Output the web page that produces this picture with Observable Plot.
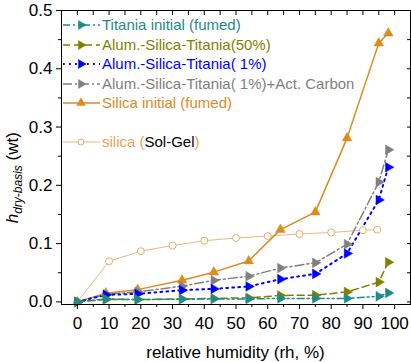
<!DOCTYPE html>
<html><head><meta charset="utf-8">
<script src="https://cdn.jsdelivr.net/npm/d3@7"></script>
<script src="https://cdn.jsdelivr.net/npm/@observablehq/plot@0.6"></script>
<style>
body{margin:0;background:#fff}
</style>
</head><body><div id="chart"></div>
<script>
// relative humidity (%) for the Origin data sets
const rh = [0, 9, 19, 33, 43, 54, 64, 75, 85, 95, 98];
const rhSolGel = [0, 10, 20, 30, 40, 50, 60, 70, 80, 90, 94.5];
// h dry-basis (wt)
const titaniaFumed = [0, 0.005, 0.004, 0.0045, 0.005, 0.005, 0.006, 0.006, 0.006, 0.0095, 0.0154];
const alumSilicaTitania50 = [0, 0.004, 0.004, 0.005, 0.006, 0.007, 0.011, 0.0115, 0.017, 0.034, 0.068];
const alumSilicaTitania1 = [0, 0.012, 0.0137, 0.020, 0.0223, 0.0264, 0.039, 0.048, 0.083, 0.175, 0.231];
const alumSilicaTitania1AC = [0, 0.013, 0.017, 0.027, 0.037, 0.044, 0.058, 0.067, 0.099, 0.2055, 0.261];
const silicaFumed = [0, 0.015, 0.021, 0.037, 0.051, 0.070, 0.124, 0.154, 0.281, 0.444, 0.461];
const silicaSolGel = [0, 0.0697, 0.087, 0.0966, 0.105, 0.1096, 0.113, 0.1165, 0.119, 0.123, 0.124];

const xTicks = [0, 10, 20, 30, 40, 50, 60, 70, 80, 90, 100];
const yTicks = [0, 0.1, 0.2, 0.3, 0.4, 0.5];

const series = [
  {name: "Titania initial (fumed)", x: rh, y: titaniaFumed, color: "#1f8a8a", dash: "7,3,2,3,2,3", symbol: "triangle", rotate: 90, sw: 1.5, r: 3.6, fill: "#1f8a8a"},
  {name: "Alum.-Silica-Titania(50%)", x: rh, y: alumSilicaTitania50, color: "#7f7f00", dash: "7,4", symbol: "triangle", rotate: 90, sw: 1.5, r: 3.6, fill: "#7f7f00"},
  {name: "Alum.-Silica-Titania( 1%)", x: rh, y: alumSilicaTitania1, color: "#0000ff", dash: "1.8,4.2", symbol: "triangle", rotate: 90, sw: 2, r: 3.6, fill: "#0000ff"},
  {name: "Alum.-Silica-Titania( 1%)+Act. Carbon", x: rh, y: alumSilicaTitania1AC, color: "#808080", dash: "9,3,2,3", symbol: "triangle", rotate: 90, sw: 1.5, r: 3.6, fill: "#808080"},
  {name: "Silica initial (fumed)", x: rh, y: silicaFumed, color: "#dd8a1f", dash: null, symbol: "triangle", rotate: 0, sw: 1.5, r: 3.6, fill: "#dd8a1f"},
  {name: "silica (Sol-Gel)", x: rhSolGel, y: silicaSolGel, color: "#e6a35a", dash: null, symbol: "circle", rotate: 0, sw: 0.8, r: 3.5, fill: "white"}
];

const FONT = "Liberation Sans, Arial, sans-serif";

const marks = [];
for (const s of series.slice().reverse()) {
  const d = s.x.map((x, i) => ({x, y: s.y[i]}));
  marks.push(Plot.line(d, {x: "x", y: "y", stroke: s.color, strokeWidth: s.sw, strokeDasharray: s.dash}));
}
for (const s of series.slice().reverse()) {
  const d = s.x.map((x, i) => ({x, y: s.y[i]}));
  marks.push(Plot.dot(d, {x: "x", y: "y", symbol: s.symbol, rotate: s.rotate, r: s.r, fill: s.fill, stroke: s.color, strokeWidth: s.symbol === "circle" ? 0.9 : 0.5}));
}

const plot = Plot.plot({
  width: 411,
  height: 362,
  marginLeft: 61,
  marginRight: 1,
  marginTop: 10,
  marginBottom: 58,
  style: {fontFamily: FONT, overflow: "visible", background: "white"},
  x: {domain: [-5, 105]},
  y: {domain: [-0.0045, 0.5]},
  marks: [
    ...marks,
    Plot.frame({stroke: "black", strokeWidth: 1}),
    Plot.axisX(xTicks, {anchor: "bottom", tickSize: 5, tickPadding: 7, fontSize: 17, label: null}),
    Plot.axisX(d3.range(5, 101, 10), {anchor: "bottom", tickSize: 3, text: null, label: null}),
    Plot.axisX(d3.range(0, 101, 5), {anchor: "top", tickSize: -4, text: null, label: null}),
    Plot.axisY(yTicks, {anchor: "left", tickSize: 5, tickPadding: 4, fontSize: 17, tickFormat: d3.format(".1f"), label: null}),
    Plot.axisY(d3.range(0.05, 0.5, 0.1), {anchor: "left", tickSize: 3, text: null, label: null}),
    Plot.axisY(d3.range(0, 0.51, 0.05), {anchor: "right", tickSize: -4, text: null, label: null})
  ]
});

const svg = d3.select(plot);
const fx = plot.scale("x"), fy = plot.scale("y");
// x-axis title
svg.append("text")
  .attr("x", (fx.apply(-5) + fx.apply(105)) / 2).attr("y", 358)
  .attr("text-anchor", "middle").attr("font-size", 17).style("font-family", FONT).attr("fill", "black")
  .text("relative humidity (rh, %)");
// y-axis title with subscript
const yt = svg.append("text")
  .attr("transform", `translate(18,${(fy.apply(0) + fy.apply(0.5)) / 2 + 22}) rotate(-90)`)
  .attr("text-anchor", "middle").attr("font-size", 17).style("font-family", FONT).attr("fill", "black");
yt.append("tspan").attr("font-style", "italic").text("h");
yt.append("tspan").attr("font-style", "italic").attr("font-size", 12).attr("dy", 4).text("dry-basis");
yt.append("tspan").attr("dy", -4).text(" (wt)");

// legend
const rowY = [25, 45, 64, 84, 103, 142];
const lg = svg.append("g");
series.forEach((s, i) => {
  const y = rowY[i];
  lg.append("line").attr("x1", 63).attr("x2", 100).attr("y1", y).attr("y2", y)
    .attr("stroke", s.color).attr("stroke-width", s.sw).attr("stroke-dasharray", s.dash);
  const area = s.symbol === "circle" ? Math.PI * 3 * 3 : Math.PI * 3.3 * 3.3;
  const sym = d3.symbol(s.symbol === "circle" ? d3.symbolCircle : d3.symbolTriangle, area)();
  lg.append("path").attr("d", sym)
    .attr("transform", `translate(81,${y}) rotate(${s.rotate})`)
    .attr("fill", s.fill).attr("stroke", s.color).attr("stroke-width", s.symbol === "circle" ? 0.9 : 0.5);
  const t = lg.append("text").attr("x", 102).attr("y", y).attr("dy", "0.35em")
    .attr("text-anchor", "start").attr("font-size", 15).style("font-family", FONT).attr("fill", s.color);
  if (s.name === "silica (Sol-Gel)") {
    t.append("tspan").text("silica (");
    t.append("tspan").attr("fill", "black").text("Sol-Gel");
    t.append("tspan").text(")");
  } else {
    t.text(s.name);
  }
});

document.getElementById("chart").append(plot);
</script>
</body></html>
